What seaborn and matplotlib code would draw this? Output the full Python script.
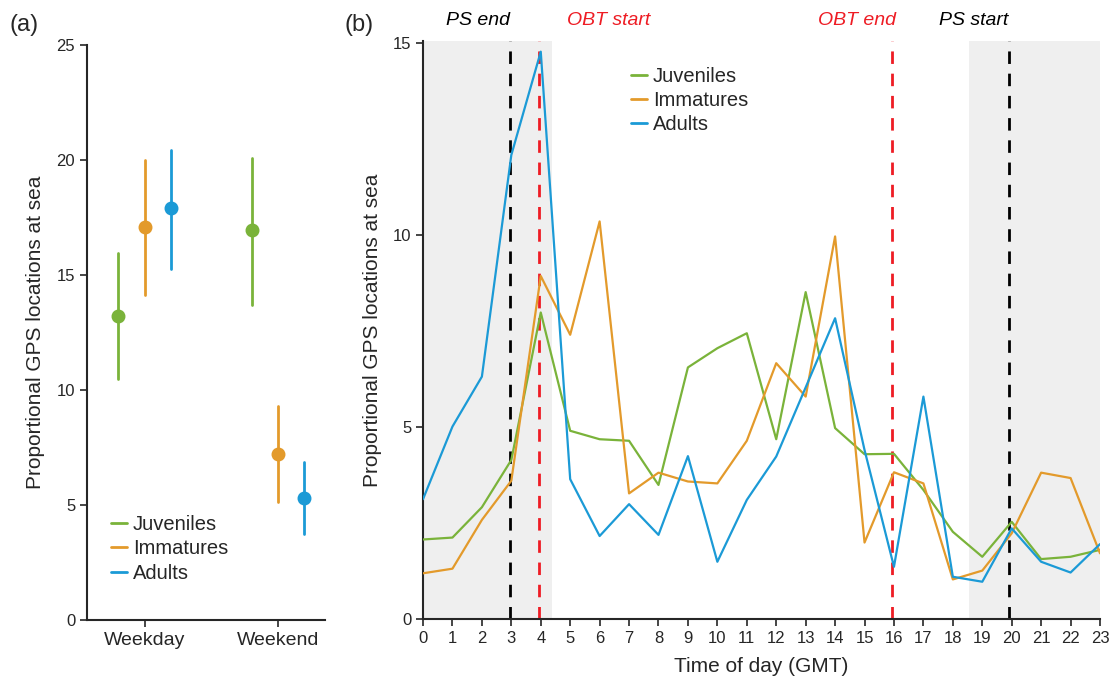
import seaborn as sns
import pandas as pd
import matplotlib.pyplot as plt
from matplotlib.lines import Line2D


# Panel (a): mean with lower / upper interval per age class and day type
groups = ['Juveniles', 'Immatures', 'Adults']
days = ['Weekday', 'Weekend']
mean_weekday = [13.2, 17.1, 17.9]
low_weekday = [10.5, 14.15, 15.25]
high_weekday = [15.95, 20.0, 20.45]
mean_weekend = [16.95, 7.2, 5.3]
low_weekend = [13.7, 5.15, 3.75]
high_weekend = [20.1, 9.3, 6.85]

# Panel (b): proportional GPS locations at sea per hour
hours = list(range(24))
juveniles = [2.07, 2.12, 2.91, 4.14, 7.98, 4.90, 4.68, 4.64, 3.49, 6.55, 7.05, 7.44,
             4.68, 8.51, 4.97, 4.29, 4.30, 3.36, 2.27, 1.62, 2.53, 1.56, 1.62, 1.80]
immatures = [1.19, 1.31, 2.58, 3.60, 8.93, 7.40, 10.35, 3.27, 3.81, 3.58, 3.53, 4.64,
             6.66, 5.79, 9.96, 1.99, 3.82, 3.53, 1.03, 1.26, 2.23, 3.81, 3.67, 1.71]
adults = [3.12, 5.01, 6.31, 12.08, 14.77, 3.64, 2.16, 2.99, 2.19, 4.24, 1.49, 3.10,
          4.23, 6.03, 7.83, 4.40, 1.36, 5.79, 1.10, 0.97, 2.36, 1.49, 1.21, 1.95]

# periods and events
dark_spans = [(0, 4.38), (18.55, 23)]
events = ['PS end', 'OBT start', 'OBT end', 'PS start']
event_hours = [2.95, 3.95, 15.95, 19.9]
event_label_x = [1.87, 6.32, 14.75, 18.69]
event_colors = ['black', '#ee1c24', '#ee1c24', 'black']

palette = {'Juveniles': '#7ab33a', 'Immatures': '#e39a2b', 'Adults': '#1b9ad6'}


# build long tables
rows = []
for day, means, lows, highs in [('Weekday', mean_weekday, low_weekday, high_weekday),
                                ('Weekend', mean_weekend, low_weekend, high_weekend)]:
    for g, m, lo, hi in zip(groups, means, lows, highs):
        for v in (lo, m, hi):
            rows.append({'Day': day, 'Group': g, 'Value': v})
day_data = pd.DataFrame(rows)

hour_data = pd.DataFrame({'Hour': hours * 3,
                          'Group': ['Juveniles'] * 24 + ['Immatures'] * 24 + ['Adults'] * 24,
                          'Value': juveniles + immatures + adults})


sns.set_style('ticks')
plt.rcParams['font.family'] = ['Liberation Sans', 'DejaVu Sans']

fig = plt.figure(figsize=(11.1, 6.89), dpi=100)
ax1 = fig.add_axes([0.0784, 0.1001, 0.2144, 0.8345])
ax2 = fig.add_axes([0.3811, 0.1016, 0.6099, 0.8390])

legend_kw = dict(frameon=False, fontsize=14.5, handlelength=0.8,
                 handletextpad=0.3, labelspacing=0.26, borderaxespad=0)


# First chart
sns.pointplot(data=day_data, x='Day', y='Value', hue='Group', order=days,
              hue_order=groups, palette=palette, estimator='median',
              errorbar=('pi', 100), dodge=0.39, linestyle='none', markers='o',
              markersize=8, err_kws={'linewidth': 2}, ax=ax1)
ax1.set_xlim(-0.43, 1.35)
ax1.set_ylim(0, 25)
ax1.set_yticks([0, 5, 10, 15, 20, 25])
ax1.set_xlabel('')
ax1.set_ylabel('Proportional GPS locations at sea', fontsize=15, labelpad=8)
ax1.tick_params(axis='y', labelsize=12, length=5, width=1.2)
ax1.tick_params(axis='x', labelsize=14, length=5, width=1.2)
handles = [Line2D([], [], color=palette[g], lw=2) for g in groups]
ax1.legend(handles, groups, loc='lower left', bbox_to_anchor=(0.065, 0.051),
           **legend_kw)
sns.despine(ax=ax1)


# Second chart
for start, end in dark_spans:
    ax2.axvspan(start, end, color='#efefef', lw=0, zorder=0)
for h, c in zip(event_hours, event_colors):
    ax2.axvline(h, color=c, ls=(0, (4.5, 3.5)), lw=2, zorder=1)
sns.lineplot(data=hour_data, x='Hour', y='Value', hue='Group', hue_order=groups,
             palette=palette, linewidth=1.6, ax=ax2, zorder=3)
for name, x, c in zip(events, event_label_x, event_colors):
    ax2.text(x, 1.02, name, transform=ax2.get_xaxis_transform(), ha='center',
             va='bottom', fontsize=14, style='italic', color=c)
ax2.set_xlim(0, 23)
ax2.set_ylim(0, 15.05)
ax2.set_xticks(hours)
ax2.set_yticks([0, 5, 10, 15])
ax2.set_xlabel('Time of day (GMT)', fontsize=15, labelpad=8)
ax2.set_ylabel('Proportional GPS locations at sea', fontsize=15, labelpad=8)
ax2.tick_params(axis='both', labelsize=12, length=5, width=1.2)
ax2.legend(handles, groups, loc='upper left', bbox_to_anchor=(0.295, 0.969),
           **legend_kw)
sns.despine(ax=ax2)

for ax in (ax1, ax2):
    for s in ('left', 'bottom'):
        ax.spines[s].set_linewidth(1.5)

fig.text(0.009, 0.955, '(a)', fontsize=17)
fig.text(0.31, 0.955, '(b)', fontsize=17)

plt.savefig('out.png', dpi=100)
